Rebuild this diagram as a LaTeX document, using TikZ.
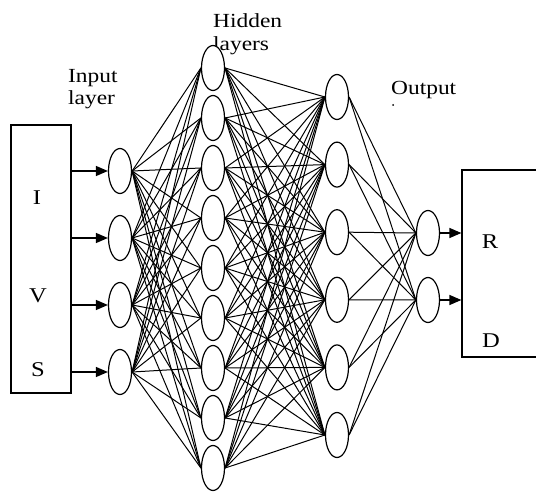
\documentclass[tikz,border=0pt]{standalone}
\usepackage{fontspec}
\setmainfont{Liberation Serif}[FakeStretch=1.17]
\usetikzlibrary{shapes.geometric,arrows.meta}
\begin{document}
\begin{tikzpicture}[x=1pt,y=-1pt,
  neuron/.style={ellipse,draw,line width=1.2pt,fill=white,minimum width=23pt,minimum height=45pt,inner sep=0pt},
  link/.style={line width=1pt},
  feed/.style={line width=1.2pt,-{Triangle[length=12pt,width=10pt]}},
  lbl/.style={font=\fontsize{20}{22}\selectfont,anchor=base west,inner sep=0pt},
  sig/.style={font=\fontsize{21}{24}\selectfont,anchor=base,inner sep=0pt},
  frame/.style={draw,line width=1.2pt,inner sep=0pt}]
\useasboundingbox (0,0) rectangle (536,492);
\clip (0,0) rectangle (536,492);

% layer captions
\node[lbl] (lin1) at (68,83) {Input};
\node[lbl] (lin2) at (68,105) {layer};
\node[lbl] (lhid1) at (213,28) {Hidden};
\node[lbl] (lhid2) at (213,51) {layers};
\node[lbl] (lout) at (391,95) {Output};
\fill (393,105) circle (1pt);

% input and output frames
\node[frame,minimum width=60pt,minimum height=268pt] (inbox) at (41,259) {};
\node[frame,minimum width=90pt,minimum height=187pt] (outbox) at (507,263.5) {};
\node[sig] (tI) at (37,205) {I};
\node[sig] (tV) at (38,302) {V};
\node[sig] (tS) at (38,376) {S};
\node[sig] (tR) at (490,248) {R};
\node[sig] (tD) at (491,347) {D};

% neurons
\foreach \i/\y in {1/171,2/238,3/305,4/372}
  \node[neuron] (in\i) at (120,\y) {};
\foreach \i in {1,...,9}
  \node[neuron] (h\i) at (213,{68+50*(\i-1)}) {};
\foreach \i in {1,...,6}
  \node[neuron] (g\i) at (337,{97+67.6*(\i-1)}) {};
\foreach \i/\y in {1/233,2/300}
  \node[neuron] (o\i) at (428,\y) {};

% fully connected weights
\foreach \a in {1,...,4}
  \foreach \b in {1,...,9}
    \draw[link] (in\a.east) -- (h\b.west);
\foreach \a in {1,...,9}
  \foreach \b in {1,...,6}
    \draw[link] (h\a.east) -- (g\b.west);
\foreach \a in {1,...,6}
  \foreach \b in {1,2}
    \draw[link] (g\a.east) -- (o\b.west);

% signal arrows
\foreach \i in {1,...,4}
  \draw[feed] (inbox.east |- in\i) -- (in\i.west);
\foreach \i in {1,2}
  \draw[feed] (o\i.east) -- (outbox.west |- o\i);
\end{tikzpicture}
\end{document}
